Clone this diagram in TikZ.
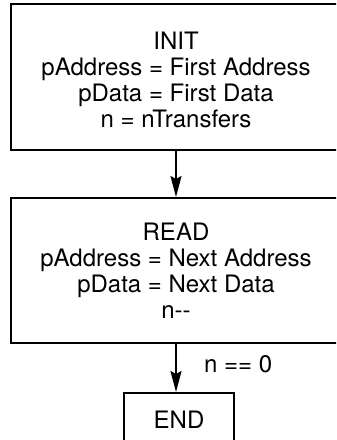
\documentclass[tikz,border=0pt]{standalone}
\usepackage{fontspec}
\setmainfont{TeX Gyre Heros}
\usetikzlibrary{arrows.meta}
\begin{document}
\begin{tikzpicture}[x=1bp,y=1bp,
  box/.style={draw, line width=2bp, rectangle, inner sep=0pt},
  lbl/.style={font=\fontsize{24bp}{26bp}\selectfont, inner sep=0pt, align=center},
  conn/.style={line width=2bp, -{Stealth[length=21bp,width=11bp,inset=3bp]}}]
\useasboundingbox (0,0) rectangle (336,-440);
\clip (0,0) rectangle (336,-440);
\node[box, minimum width=330bp, minimum height=146bp] (init) at (176,-77) {};
\node[box, minimum width=330bp, minimum height=145bp] (read) at (176,-270.5) {};
\node[box, minimum width=110bp, minimum height=53bp] (end) at (179,-419.5) {};
\node[lbl, anchor=base] (t1) at (176,-127.5) {INIT\\pAddress = First Address\\pData = First Data\\n = nTransfers};
\node[lbl, anchor=base] (t2) at (176,-318) {READ\\pAddress = Next Address\\pData = Next Data\\n-{}-};
\node[lbl, anchor=base] (t3) at (179,-428) {END};
\draw[conn] (init.south) -- (read.north);
\draw[conn] (read.south) -- (read.south |- end.north);
\node[lbl, anchor=base west] (cond) at (204,-372) {n == 0};
\end{tikzpicture}
\end{document}
